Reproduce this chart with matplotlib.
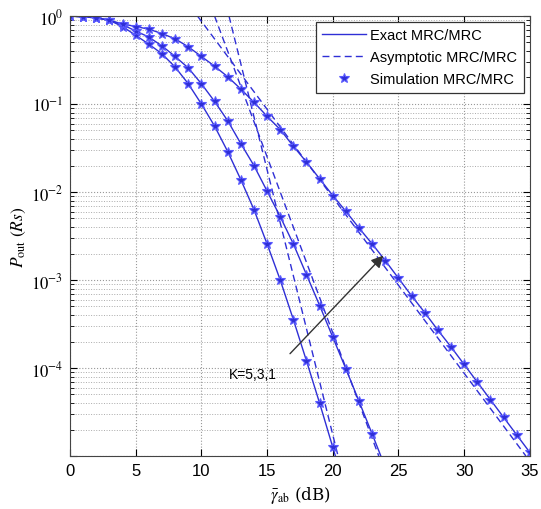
import numpy as np
import matplotlib
matplotlib.use('Agg')
import matplotlib.pyplot as plt
from matplotlib.ticker import LogLocator, NullFormatter

plt.rcParams['font.family'] = ['Liberation Sans', 'DejaVu Sans']
plt.rcParams['mathtext.fontset'] = 'stix'

# average SNR (dB), one simulation point per dB
snr_db = np.arange(0, 36)

# -log10(Pout), K = 5, 3, 1
dec_k5 = [0.0, 0.01, 0.02, 0.05, 0.12, 0.22, 0.32, 0.43, 0.58, 0.77, 1.0, 1.25,
          1.54, 1.86, 2.2, 2.59, 3.0, 3.45, 3.92, 4.4, 4.9, 5.4]
dec_k3 = [0.0, 0.01, 0.02, 0.05, 0.1, 0.17, 0.24, 0.34, 0.46, 0.59, 0.77, 0.97,
          1.19, 1.45, 1.7, 1.99, 2.28, 2.59, 2.94, 3.29, 3.65, 4.01, 4.38, 4.75, 5.13]
dec_k1 = [0.0, 0.01, 0.02, 0.05, 0.09, 0.12, 0.15, 0.2, 0.26, 0.35, 0.46, 0.57,
          0.69, 0.83, 0.98, 1.14, 1.29, 1.48, 1.66, 1.85, 2.04, 2.22, 2.41, 2.59,
          2.78, 2.98, 3.18, 3.37, 3.57, 3.76, 3.96, 4.16, 4.36, 4.56, 4.76, 4.96]

# asymptotic lines (straight in dB / log scale): end points
asym_x = {'K=5': [12.1, 20.4], 'K=3': [11.0, 23.5], 'K=1': [9.7, 34.7]}
asym_p = [1.0, 1e-5]

blue = '#2f2fd6'

fig = plt.figure(figsize=(5.41, 5.10), dpi=100)
ax = fig.add_axes([0.1294, 0.1039, 0.8500, 0.8628])

for i, dec in enumerate([dec_k5, dec_k3, dec_k1]):
    x = snr_db[:len(dec)]
    p = 10.0 ** -np.array(dec)
    ax.plot(x, p, '-', color=blue, lw=1.0,
            label='Exact MRC/MRC' if i == 0 else None)
for i, k in enumerate(asym_x):
    ax.plot(asym_x[k], asym_p, '--', color=blue, lw=1.0, dashes=(5, 3),
            label='Asymptotic MRC/MRC' if i == 0 else None)
for i, dec in enumerate([dec_k5, dec_k3, dec_k1]):
    x = snr_db[:len(dec)]
    p = 10.0 ** -np.array(dec)
    ax.plot(x, p, '*', color=blue, ms=7, mec='#5a5aff', mew=0.8, ls='none',
            label='Simulation MRC/MRC' if i == 0 else None)

ax.set_yscale('log')
ax.set_xlim(0, 35)
ax.set_ylim(1e-5, 1)
ax.set_xticks(np.arange(0, 36, 5))
ax.set_yticks([1e-5, 1e-4, 1e-3, 1e-2, 1e-1, 1])
ax.set_yticklabels(['', r'$10^{-4}$', r'$10^{-3}$', r'$10^{-2}$', r'$10^{-1}$', r'$10^{0}$'])
ax.yaxis.set_minor_locator(LogLocator(base=10, subs=np.arange(2, 10), numticks=20))
ax.yaxis.set_minor_formatter(NullFormatter())
ax.tick_params(which='both', direction='in', top=True, right=True, labelsize=12)
ax.tick_params(which='major', length=5, pad=5)
ax.tick_params(which='minor', length=3)
ax.grid(True, which='major', ls=':', color='#999999', lw=0.8)
ax.grid(True, which='minor', axis='y', ls=':', color='#aaaaaa', lw=0.7)
for s in ax.spines.values():
    s.set_color('#444444')

ax.set_xlabel(r'$\bar{\gamma}_{\mathrm{ab}}$ (dB)', fontsize=12, family='serif')
ax.set_ylabel(r'$P_{\mathrm{out}}\ (Rs)$', fontsize=12.5, labelpad=2)

ax.annotate('', xy=(24.0, 2.0e-3), xytext=(16.6, 1.38e-4),
            arrowprops=dict(arrowstyle='-|>', color='#333333', lw=1.0,
                            mutation_scale=18))
ax.text(12.1, 8.5e-5, 'K=5,3,1', fontsize=10, va='center', ha='left')

leg = ax.legend(loc='upper right', fontsize=10.5, fancybox=False, framealpha=1,
                edgecolor='#333333', borderaxespad=0.4, handlelength=3.0,
                labelspacing=0.55, borderpad=0.45, handletextpad=0.3)
leg.get_frame().set_linewidth(0.9)

fig.savefig('out.png', dpi=100)
